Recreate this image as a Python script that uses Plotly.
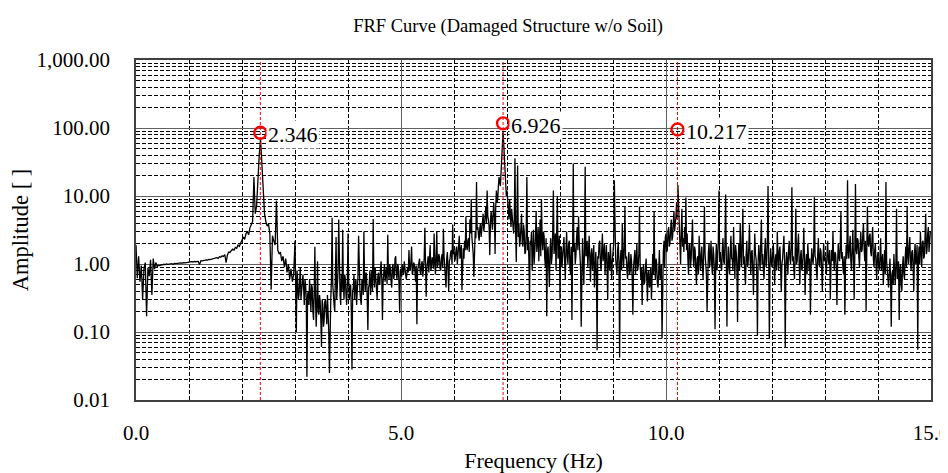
import numpy as np
import plotly.graph_objects as go

# amplitudes, one row per 1 Hz band
# (40 samples per Hz in the quiet part, 80 per Hz where the trace is noisy)
amp_00 = [1.9, 0.62, 1.3, 0.55, 0.95, 0.30, 0.85, 1.05, 0.17, 0.88,
          0.66, 1.15, 0.35, 1.2, 0.84, 1.05, 0.92, 0.96, 0.94, 0.98,
          0.97, 0.99, 0.98, 1.0, 0.99, 1.0, 1.0, 1.01, 0.99, 1.02,
          1.01, 1.02, 1.03, 1.02, 1.04, 1.03, 1.05, 1.04, 1.05, 1.06]
amp_01 = [1.07, 1.06, 1.08, 1.07, 1.09, 1.08, 1.10, 1.09, 0.98, 1.12,
          1.11, 1.13, 1.12, 1.15, 1.14, 1.17, 1.16, 1.18, 1.20, 1.19,
          1.22, 1.24, 1.21, 1.28, 1.26, 1.32, 1.29, 1.38, 1.05, 1.36,
          1.5, 1.48, 1.58, 1.65, 1.6, 1.75, 1.7, 1.9, 1.82, 2.05]
amp_02 = [2.2, 2.5, 2.3, 2.8, 3.0, 2.7, 3.4, 3.7, 4.2, 19,
          5.5, 7.0, 22, 40, 70, 28, 9.0, 5.5, 4.2, 3.6,
          3.9, 2.8, 0.42, 2.6, 2.2, 1.9, 8.5, 1.6, 1.4, 1.5,
          1.1, 1.3, 0.9, 1.2, 0.75, 1.0, 0.6, 0.85, 0.55, 0.7]
amp_03 = [2.2, 0.5, 0.1, 0.8, 0.6, 0.3, 0.35, 0.55, 0.9, 0.3,
          0.4, 0.65, 0.7, 0.45, 0.25, 0.6, 0.5, 0.3, 0.022, 0.35,
          0.4, 0.25, 0.6, 0.35, 0.2, 0.5, 0.45, 0.2, 0.15, 0.4,
          1.8, 0.3, 0.12, 0.25, 1.1, 0.2, 0.18, 0.35, 0.28, 0.15,
          0.06, 0.3, 0.25, 0.12, 0.15, 0.28, 0.3, 0.2, 0.13, 0.35,
          0.22, 0.1, 0.025, 0.2, 0.3, 0.6, 4.8, 0.5, 0.4, 0.25,
          0.2, 0.6, 2.5, 0.3, 0.5, 0.8, 4.5, 0.4, 0.35, 0.25,
          0.7, 0.4, 3.2, 0.5, 0.3, 0.7, 0.6, 0.35, 0.25, 0.5]
amp_04 = [2.8, 0.6, 0.3, 0.45, 0.5, 0.2, 0.028, 0.4, 0.45, 0.7,
          0.3, 0.5, 0.6, 0.25, 0.35, 0.65, 2.6, 0.5, 0.4, 0.3,
          0.25, 0.6, 0.55, 0.35, 3.0, 0.6, 0.4, 0.75, 0.7, 0.3,
          0.107, 0.45, 0.5, 0.8, 0.35, 0.55, 0.8, 0.4, 4.6, 0.7,
          0.45, 0.9, 0.6, 0.4, 0.3, 0.65, 0.75, 0.5, 0.5, 0.85,
          1.1, 0.6, 0.15, 0.55, 0.7, 1.0, 0.55, 0.8, 0.9, 0.5,
          2.7, 0.75, 0.6, 1.0, 0.85, 0.55, 0.45, 0.9, 1.0, 0.6,
          0.7, 1.2, 1.3, 0.7, 0.6, 1.0, 0.9, 0.5, 0.19, 0.8]
amp_05 = [0.85, 0.65, 1.0, 0.8, 0.7, 1.1, 0.95, 0.7, 0.6, 0.9,
          0.9, 0.75, 1.6, 0.85, 0.8, 1.1, 1.8, 0.7, 0.75, 1.05,
          1.0, 0.8, 0.55, 0.95, 0.13, 0.8, 0.9, 1.1, 1.2, 0.75,
          0.7, 1.0, 1.1, 0.65, 0.8, 1.2, 3.4, 0.9, 0.33, 0.85,
          1.0, 1.3, 0.75, 1.1, 1.9, 0.8, 0.9, 1.25, 1.2, 0.85,
          2.8, 1.1, 0.7, 1.2, 3.0, 0.9, 1.0, 1.4, 1.3, 0.85,
          0.8, 1.2, 1.4, 0.9, 3.3, 1.3, 1.0, 0.7, 0.45, 1.2,
          1.5, 0.8, 0.4, 1.1, 1.2, 1.5, 1.6, 1.0, 3.8, 1.4]
amp_06 = [1.6, 1.1, 1.2, 1.6, 1.8, 1.0, 1.3, 1.5, 2.6, 1.2,
          1.4, 1.9, 0.41, 1.3, 1.7, 1.2, 2.2, 1.6, 5.0, 1.8,
          1.6, 2.2, 2.4, 1.5, 4.5, 2.8, 9.0, 2.5, 2.0, 1.4,
          0.65, 2.0, 3.0, 2.4, 16, 3.2, 3.5, 2.6, 2.2, 3.4,
          4.0, 2.5, 3.0, 4.2, 5.5, 3.0, 3.8, 5.0, 7.0, 4.0,
          12, 5.0, 4.5, 3.5, 1.35, 4.0, 6.0, 4.5, 3.2, 5.5,
          8.0, 5.0, 1.4, 7.0, 12, 8.0, 9.0, 14, 19, 16,
          14, 22, 32, 50, 88, 60, 40, 22, 15, 10]
amp_07 = [12, 8.0, 6.0, 4.5, 9.0, 5.0, 3.5, 6.5, 5.0, 3.0,
          2.8, 4.5, 36, 3.0, 1.07, 5.0, 28, 2.5, 4.0, 1.8,
          2.2, 3.5, 5.5, 2.0, 1.8, 3.8, 3.0, 1.4, 1.5, 2.8,
          19, 1.6, 2.5, 1.2, 0.3, 2.2, 1.9, 3.0, 0.8, 1.6,
          3.2, 1.0, 1.4, 2.5, 6.0, 1.5, 2.0, 3.5, 1.1, 2.2,
          4.5, 1.3, 9.0, 2.4, 1.6, 3.0, 2.6, 1.2, 0.9, 2.4,
          0.17, 1.5, 1.8, 0.9, 0.46, 1.7, 2.4, 1.0, 1.3, 3.0,
          12, 1.4, 2.0, 2.8, 0.8, 1.9, 10, 1.2, 1.5, 2.6]
amp_08 = [0.3, 1.4, 1.8, 0.9, 1.2, 1.9, 2.5, 1.1, 0.6, 1.6,
          3.0, 1.3, 1.0, 2.0, 2.2, 0.9, 0.7, 1.8, 0.15, 1.4,
          30, 1.5, 2.0, 1.0, 1.3, 2.4, 3.5, 1.6, 5.0, 2.2,
          1.6, 0.9, 0.12, 1.5, 2.4, 1.0, 0.5, 1.8, 27, 1.3,
          1.4, 2.2, 0.9, 1.5, 2.6, 1.2, 0.55, 1.4, 1.7, 0.8,
          1.1, 1.9, 0.45, 1.0, 1.5, 0.7, 0.054, 1.3, 1.2, 2.0,
          2.2, 1.0, 0.8, 1.6, 2.8, 1.1, 1.3, 2.0, 0.7, 1.2,
          1.9, 0.9, 0.3, 1.5, 1.1, 0.8, 2.0, 1.3, 0.6, 1.1]
amp_09 = [1.4, 2.0, 17, 1.5, 1.2, 0.9, 0.7, 1.6, 2.1, 1.0,
          0.042, 1.1, 1.6, 0.8, 4.0, 1.3, 0.9, 1.8, 7.0, 1.2,
          1.3, 0.8, 0.6, 1.2, 1.5, 0.7, 0.8, 1.4, 1.1, 0.6,
          0.18, 0.9, 1.3, 1.6, 0.7, 1.0, 2.0, 0.8, 0.9, 1.4,
          7.0, 1.0, 0.6, 0.9, 0.25, 0.7, 1.0, 0.5, 0.55, 0.9,
          1.2, 0.6, 0.28, 0.75, 0.8, 0.45, 0.5, 0.9, 0.3, 0.6,
          1.4, 0.7, 6.0, 0.9, 0.6, 1.2, 1.0, 0.5, 0.45, 0.8,
          1.6, 0.6, 0.8, 1.0, 0.08, 0.7, 1.5, 2.2, 0.9, 2.5]
amp_10 = [2.8, 1.5, 1.6, 3.0, 3.5, 1.8, 2.0, 3.2, 4.5, 2.2,
          2.5, 4.0, 6.0, 3.0, 3.8, 5.0, 8.0, 4.5, 14.5, 6.0,
          4.0, 2.0, 1.0, 3.0, 6.5, 1.8, 2.4, 1.5, 3.5, 2.0,
          9.5, 1.6, 2.8, 1.2, 0.7, 1.9, 2.0, 0.9, 1.2, 2.4,
          4.5, 1.3, 0.9, 1.8, 1.6, 0.8, 0.5, 1.2, 1.3, 0.7,
          2.6, 1.5, 0.8, 1.2, 1.8, 0.9, 0.6, 1.6, 7.0, 1.4,
          1.1, 0.7, 0.2, 1.0, 1.5, 2.0, 0.9, 1.3, 2.2, 1.0,
          0.7, 1.8, 1.4, 0.8, 0.11, 1.0, 2.0, 0.8, 1.3, 2.2]
amp_11 = [12, 1.2, 1.5, 0.9, 0.8, 1.6, 2.4, 1.1, 1.0, 2.0,
          10.5, 1.4, 0.12, 1.0, 1.8, 0.9, 0.7, 1.5, 2.6, 1.2,
          1.2, 0.8, 3.5, 1.3, 0.6, 1.9, 1.5, 0.9, 0.14, 1.2,
          2.0, 0.8, 4.0, 1.5, 0.9, 2.2, 6.5, 1.0, 1.3, 0.7,
          0.5, 1.4, 2.2, 0.9, 1.0, 1.8, 3.8, 1.2, 0.7, 1.5,
          1.6, 0.8, 0.35, 1.1, 2.8, 1.4, 1.2, 0.7, 0.09, 1.0,
          1.9, 1.3, 0.8, 2.0, 4.5, 1.0, 1.4, 0.8, 0.6, 1.6,
          2.4, 0.9, 1.1, 2.0, 14, 1.2, 0.08, 0.9, 1.7, 1.1]
amp_12 = [0.9, 1.4, 2.0, 1.0, 0.5, 1.2, 1.4, 0.8, 3.0, 1.3,
          0.8, 1.6, 1.8, 0.9, 0.4, 1.0, 1.2, 1.8, 2.6, 1.1,
          0.058, 0.9, 1.5, 1.1, 0.7, 1.6, 2.2, 1.2, 1.0, 1.8,
          13.5, 1.1, 1.3, 0.8, 0.6, 1.5, 6.5, 1.0, 1.1, 1.9,
          2.8, 1.0, 0.5, 1.3, 1.6, 0.8, 0.9, 1.4, 3.4, 1.2,
          0.35, 1.0, 1.4, 0.7, 2.0, 1.3, 0.8, 1.2, 0.18, 0.9,
          1.7, 1.2, 1.0, 1.6, 9.6, 1.3, 1.2, 0.8, 0.6, 1.4,
          2.4, 1.0, 0.9, 1.7, 1.5, 0.8, 0.4, 1.2, 2.0, 1.1]
amp_13 = [1.3, 1.0, 0.7, 1.4, 2.2, 1.1, 1.0, 1.6, 0.3, 0.9,
          1.6, 1.1, 3.0, 1.2, 0.8, 1.5, 1.4, 0.9, 0.25, 1.0,
          2.0, 1.3, 1.1, 1.8, 6.0, 1.2, 1.5, 0.9, 0.7, 1.3,
          0.18, 1.0, 1.9, 1.2, 17, 1.5, 1.2, 1.9, 2.6, 1.1,
          0.8, 1.6, 3.2, 1.2, 0.3, 1.4, 15, 1.6, 1.4, 2.4,
          2.2, 1.3, 0.9, 1.8, 3.0, 1.5, 1.6, 2.6, 4.0, 1.8,
          1.1, 2.2, 0.2, 1.4, 7.0, 2.0, 1.8, 2.6, 2.8, 1.5,
          1.3, 2.4, 3.5, 1.2, 0.9, 1.6, 2.0, 1.0, 0.6, 1.3]
amp_14 = [1.5, 0.9, 0.8, 1.3, 2.4, 0.8, 1.0, 1.4, 0.5, 0.9,
          1.6, 0.7, 16, 1.1, 0.9, 0.6, 0.45, 0.9, 1.2, 0.6,
          0.12, 0.7, 0.8, 0.5, 1.4, 0.8, 0.5, 1.0, 6.5, 0.6,
          0.7, 1.1, 0.15, 0.8, 1.0, 0.5, 0.4, 0.9, 1.3, 0.7,
          0.6, 1.2, 1.8, 0.9, 7.0, 1.3, 1.0, 1.8, 2.5, 1.1,
          0.8, 1.5, 1.6, 0.9, 0.4, 1.4, 2.0, 1.0, 1.2, 1.9,
          0.055, 1.2, 1.8, 1.0, 3.0, 1.6, 0.9, 2.1, 2.2, 1.2,
          1.3, 2.5, 5.5, 1.4, 1.6, 2.8, 3.5, 1.5, 2.0, 3.0,
          2.8]

bands = [amp_00, amp_01, amp_02, amp_03, amp_04, amp_05, amp_06, amp_07,
         amp_08, amp_09, amp_10, amp_11, amp_12, amp_13, amp_14]

# picked peaks
peak_freq = [2.346, 6.926, 10.217]
peak_amp = [85, 117, 95]

freq = []
amp = []
for k, band in enumerate(bands):
    n = 80 if len(band) >= 80 else 40
    for j, a in enumerate(band):
        freq.append(round(k + j / n, 4))
        amp.append(a)

FONT = "Palatino Linotype, Book Antiqua, Palatino, Liberation Serif, serif"

fig = go.Figure()

fig.add_trace(go.Scatter(x=freq, y=amp, mode="lines",
                         line=dict(color="black", width=1.3),
                         showlegend=False, hoverinfo="x+y"))

fig.add_trace(go.Scatter(x=peak_freq, y=peak_amp, mode="markers",
                         marker=dict(symbol="circle-open", size=12, color="red",
                                     line=dict(width=2.4, color="red")),
                         showlegend=False))

for f, a in zip(peak_freq, peak_amp):
    fig.add_shape(type="line", xref="x", yref="paper", x0=f, x1=f, y0=0, y1=1,
                  line=dict(color="red", width=1, dash="3px,2px"), layer="above")
    fig.add_annotation(x=f, y=np.log10(a), text=f"{f:.3f}", showarrow=False,
                       xanchor="left", yanchor="middle", xshift=6, yshift=-2,
                       bgcolor="white", borderpad=1,
                       font=dict(family=FONT, size=22, color="black"))

# the page body adds an 8px offset, so margins are shifted to compensate
fig.update_layout(
    width=948, height=473,
    margin=dict(l=128, r=25, t=52, b=81),
    paper_bgcolor="white", plot_bgcolor="white",
    font=dict(family=FONT, color="black"),
    title=dict(text="FRF Curve (Damaged Structure w/o Soil)", x=0.468, xref="paper",
               xanchor="center", y=1 - 18 / 473, yanchor="middle",
               font=dict(family=FONT, size=18.5, color="black")),
)

fig.update_xaxes(
    range=[0, 15], tickvals=[0, 5, 10, 15], tickformat=".1f",
    showgrid=True, gridcolor="#606060", gridwidth=1,
    minor=dict(dtick=1, showgrid=True, gridcolor="black", griddash="4px,2px", gridwidth=1),
    showline=True, linecolor="#404040", linewidth=1.5, mirror=True,
    ticks="", ticklabelstandoff=13, tickfont=dict(family=FONT, size=21),
    title=dict(text="Frequency (Hz)", standoff=9, font=dict(family=FONT, size=22)),
    zeroline=False, automargin=False,
)

fig.update_yaxes(
    type="log", range=[-2, 3], dtick=1, tickformat=",.2f",
    showgrid=True, gridcolor="#606060", gridwidth=1,
    minor=dict(dtick="D1", showgrid=True, gridcolor="black", griddash="4px,2px", gridwidth=1),
    showline=True, linecolor="#404040", linewidth=1.5, mirror=True,
    ticks="", ticklabelstandoff=20, tickfont=dict(family=FONT, size=21),
    title=dict(text="Amplitude [ ]", standoff=6, font=dict(family=FONT, size=22.5)),
    zeroline=False, automargin=False,
)

fig.write_html("out.html")
